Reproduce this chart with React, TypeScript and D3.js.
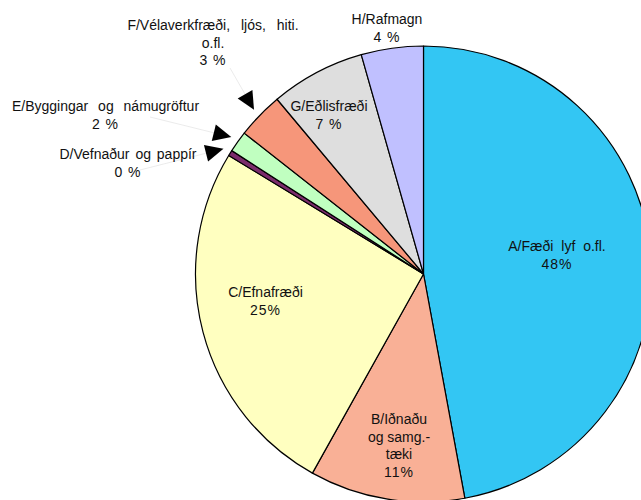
import React, { useEffect, useRef } from 'react';
import * as d3 from 'd3';

// share of each field
const categories = ['A', 'B', 'C', 'D', 'E', 'F', 'G', 'H'];
const shares = [47.1, 11.0, 25.6, 0.4, 1.5, 3.3, 6.7, 4.4];
const nameLines = [
  ['A/Fæði lyf o.fl.'],
  ['B/Iðnaðu', 'og samg.-', 'tæki'],
  ['C/Efnafræði'],
  ['D/Vefnaður og pappír'],
  ['E/Byggingar og námugröftur'],
  ['F/Vélaverkfræði, ljós, hiti.', 'o.fl.'],
  ['G/Eðlisfræði'],
  ['H/Rafmagn'],
];
const pctLabels = ['48%', '11%', '25%', '0 %', '2 %', '3 %', '7 %', '4 %'];
const colors = ['#33c6f3', '#f9b096', '#ffffc0', '#7b2c6b', '#c0ffc0', '#f6967a', '#dedede', '#c0c0ff'];

// label placement (centre of first line), and where the leader lines start
const labelPos: Record<string, [number, number]> = {
  A: [557, 246], B: [399, 419], C: [265.5, 292], D: [128, 154],
  E: [105.5, 106], F: [213, 25], G: [329, 106], H: [387, 19],
};
// the original text is justified, so some word gaps are wide
const wordGap: Record<string, number> = { A: 4, D: 2, E: 6, F: 7 };
const leaderFrom: Record<string, [number, number]> = {
  D: [140, 170], E: [150, 117], F: [230, 68],
};

export default function App() {
  const ref = useRef<SVGSVGElement>(null);

  useEffect(() => {
    const width = 641, height = 500;
    const cx = 423.5, cy = 274, radius = 228;
    const lineH = 17.5;

    const svg = d3.select(ref.current);
    svg.selectAll('*').remove();
    svg.attr('width', width).attr('height', height);

    const pie = d3.pie<number>().sort(null).value(d => d);
    const arcs = pie(shares);
    const arc = d3.arc<d3.PieArcDatum<number>>().innerRadius(0).outerRadius(radius);

    const g = svg.append('g').attr('transform', `translate(${cx},${cy})`);
    g.selectAll('path.slice')
      .data(arcs)
      .enter()
      .append('path')
      .attr('class', 'slice')
      .attr('d', arc)
      .attr('fill', (_, i) => colors[i])
      .attr('stroke', '#000')
      .attr('stroke-width', 1.2)
      .attr('stroke-linejoin', 'round');

    // leader lines + black arrow heads for the small slices
    arcs.forEach((a, i) => {
      const key = categories[i];
      const from = leaderFrom[key];
      if (!from) return;
      const mid = (a.startAngle + a.endAngle) / 2;
      const r = radius + 8;
      const tx = cx + r * Math.sin(mid);
      const ty = cy - r * Math.cos(mid);
      svg.append('line')
        .attr('x1', from[0]).attr('y1', from[1])
        .attr('x2', tx).attr('y2', ty)
        .attr('stroke', '#e2e2e2')
        .attr('stroke-width', 0.7);
      const dx = tx - from[0], dy = ty - from[1];
      const len = Math.hypot(dx, dy);
      const ux = dx / len, uy = dy / len;
      const hl = 18, hw = 8.5;
      const bx = tx - ux * hl, by = ty - uy * hl;
      svg.append('path')
        .attr('d', `M${tx},${ty}L${bx - uy * hw},${by + ux * hw}L${bx + uy * hw},${by - ux * hw}Z`)
        .attr('fill', '#000');
    });

    // labels
    categories.forEach((key, i) => {
      const [x, y] = labelPos[key];
      const lines = [...nameLines[i], pctLabels[i]];
      const t = svg.append('text')
        .attr('text-anchor', 'middle')
        .style('font-family', '"Liberation Sans", Arial, sans-serif')
        .style('font-size', '14px')
        .style('fill', '#111');
      lines.forEach((ln, j) => {
        const isPct = j === lines.length - 1;
        const ws = wordGap[key];
        t.append('tspan')
          .attr('x', x)
          .attr('y', y + j * lineH)
          .attr('dominant-baseline', 'central')
          .style('letter-spacing', isPct ? '1px' : null)
          .style('word-spacing', !isPct && j === 0 && ws ? `${ws}px` : null)
          .text(ln);
      });
    });
  }, []);

  return (
    <svg ref={ref} style={{ position: 'absolute', left: 0, top: 0, display: 'block', background: '#fff' }} />
  );
}
